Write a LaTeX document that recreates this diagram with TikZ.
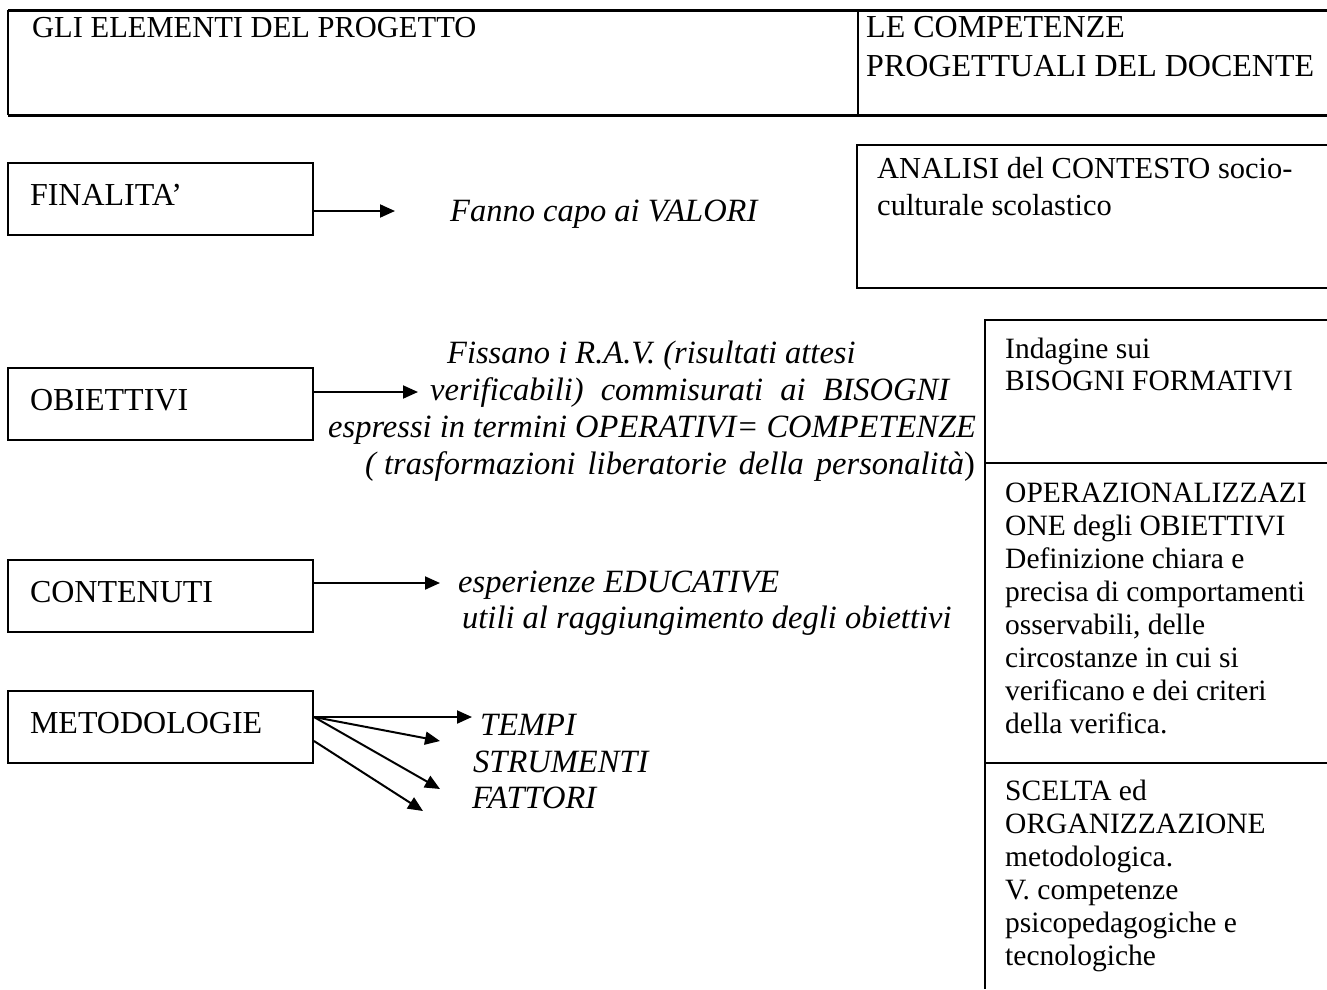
\documentclass[tikz,border=0pt]{standalone}
\usepackage{fontspec}
\setmainfont{Liberation Serif}
\usetikzlibrary{arrows.meta}

\tikzset{
  elem/.style={draw, line width=2pt, text width=261pt, inner xsep=22pt, inner ysep=0pt,
    minimum height=72pt, align=left, text height=22pt, text depth=9pt,
    font=\fontsize{32}{37}\selectfont},
  note/.style={anchor=base west, inner sep=0pt, font=\fontsize{32.5}{37}\selectfont\itshape},
  comp/.style={anchor=base west, inner sep=0pt, align=left, font=\fontsize{29.5}{33}\selectfont},
  arr/.style={line width=2pt, -{Triangle[length=15pt,width=13pt]}},
  rule/.style={line width=2pt}
}
\newcommand{\wsp}{\hspace{9pt} }

\begin{document}
\begin{tikzpicture}[x=1pt, y=-1pt]
  \useasboundingbox (0,0) rectangle (1327,989);

  % intestazione
  \draw[line width=3pt] (8,10) -- (1327,10) (8,115) -- (1327,115);
  \draw[rule] (8,10) -- (8,115) (858,10) -- (858,115);
  \node[anchor=base west, inner sep=0pt, font=\fontsize{30.5}{37}\selectfont] (elementi) at (32,37) {GLI ELEMENTI DEL PROGETTO};
  \node[anchor=base west, inner sep=0pt, align=left, font=\fontsize{32}{39}\selectfont] (competenze) at (866,76) {LE COMPETENZE\\PROGETTUALI DEL DOCENTE};

  % elementi del progetto
  \node[elem] (fin) at (160.5,199) {FINALITA'};
  \node[elem] (obi) at (160.5,403.5) {OBIETTIVI};
  \node[elem] (con) at (160.5,596) {CONTENUTI};
  \node[elem] (met) at (160.5,727) {METODOLOGIE};

  \coordinate (fintip) at (395,211);
  \coordinate (obitip) at (418,392);
  \coordinate (contip) at (440,583);
  \coordinate (met1) at (472,717);
  \coordinate (met2) at (440,741);
  \coordinate (met3) at (440,789);
  \coordinate (met4) at (423,811);

  \draw[arr] (fin.east |- fintip) -- (fintip);
  \draw[arr] (obi.east |- obitip) -- (obitip);
  \draw[arr] (con.east |- contip) -- (contip);
  \draw[arr] (met.east |- met1) -- (met1);
  \draw[arr] (met.east |- met1) -- (met2);
  \draw[arr] (met.east |- met1) -- (met3);
  \draw[arr] (met.east |- met2) -- (met4);

  \node[note] (valori) at (450,221) {Fanno capo ai VALORI};
  \node[note] (rav1) at (447,363) {Fissano i R.A.V. (risultati attesi};
  \node[note] (rav2) at (430,400) {verificabili)\wsp commisurati\wsp ai\wsp BISOGNI};
  \node[note] (rav3) at (328,437) {espressi in termini OPERATIVI= COMPETENZE};
  \node[note] (rav4) at (365,474) {( trasformazioni\hspace{4pt} liberatorie\hspace{4pt} della\hspace{4pt} personalità\upshape)};
  \node[note] (esp1) at (458,592) {esperienze EDUCATIVE};
  \node[note] (esp2) at (462,628) {utili al raggiungimento degli obiettivi};
  \node[note] (tempi) at (480,735) {TEMPI};
  \node[note] (strum) at (473,772) {STRUMENTI};
  \node[note] (fatt) at (472,808) {FATTORI};

  % competenze del docente
  \draw[rule] (1327,145) -- (857,145) -- (857,288) -- (1327,288);
  \node[comp, font=\fontsize{30.5}{37}\selectfont] (analisi) at (877,215) {ANALISI del CONTESTO socio-\\culturale scolastico};

  \draw[rule] (1327,320) -- (985,320) -- (985,989);
  \draw[rule] (985,463) -- (1327,463) (985,763) -- (1327,763);
  \node[comp, font=\fontsize{29.5}{32}\selectfont] (bisogni) at (1005,390) {Indagine sui\\BISOGNI FORMATIVI};
  \node[comp] (operaz) at (1005,733) {OPERAZIONALIZZAZI\\ONE degli OBIETTIVI\\Definizione chiara e\\precisa di comportamenti\\osservabili, delle\\circostanze in cui si\\verificano e dei criteri\\della verifica.};
  \node[comp] (scelta) at (1005,965) {SCELTA ed\\ORGANIZZAZIONE\\metodologica.\\V. competenze\\psicopedagogiche e\\tecnologiche};
\end{tikzpicture}
\end{document}
